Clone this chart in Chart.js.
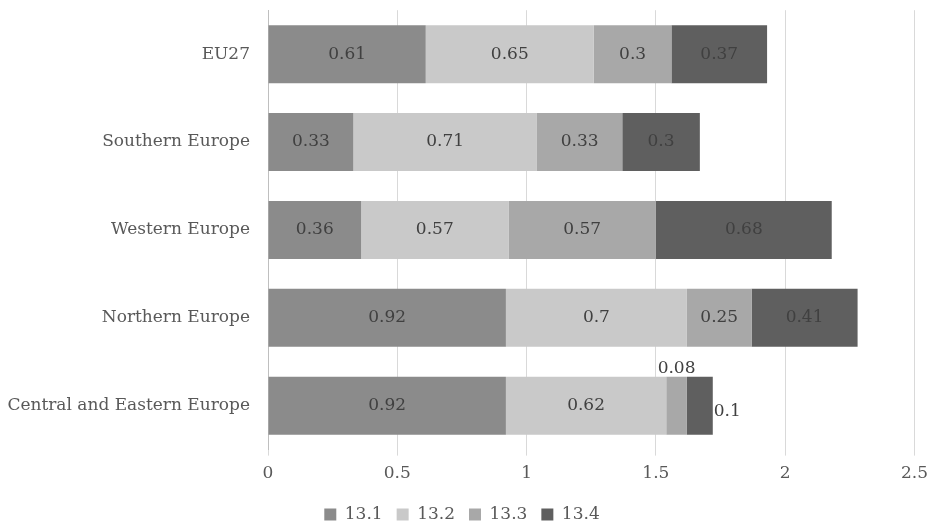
<!DOCTYPE html>
<html>
<head>
<meta charset="utf-8">
<script src="https://cdn.jsdelivr.net/npm/chart.js@4"></script>
<style>
  html, body { margin: 0; padding: 0; background: #fff; }
  #wrap { width: 936px; height: 525px; }
</style>
</head>
<body>
<div id="wrap"><canvas id="myChart" width="936" height="525"></canvas></div>
<script>
const regions = ["EU27", "Southern Europe", "Western Europe", "Northern Europe", "Central and Eastern Europe"];
const s131 = [0.61, 0.33, 0.36, 0.92, 0.92];
const s132 = [0.65, 0.71, 0.57, 0.7, 0.62];
const s133 = [0.3, 0.33, 0.57, 0.25, 0.08];
const s134 = [0.37, 0.3, 0.68, 0.41, 0.1];
const seriesNames = ["13.1", "13.2", "13.3", "13.4"];
const xTicks = [0, 0.5, 1, 1.5, 2, 2.5];

const colors = ["#8b8b8b", "#c9c9c9", "#a8a8a8", "#5f5f5f"];
const fontFamily = "'DejaVu Serif', serif";

// draws the value on each bar segment, small segments get the label outside
const barLabels = {
  id: "barLabels",
  afterDatasetsDraw(chart) {
    const ctx = chart.ctx;
    ctx.save();
    ctx.font = "17px " + fontFamily;
    ctx.fillStyle = "#404040";
    chart.data.datasets.forEach((ds, i) => {
      const meta = chart.getDatasetMeta(i);
      meta.data.forEach((bar, j) => {
        const v = ds.data[j];
        const w = Math.abs(bar.x - bar.base);
        let x = (bar.x + bar.base) / 2;
        let y = bar.y;
        ctx.textAlign = "center";
        ctx.textBaseline = "middle";
        if (w < 30) {
          if (i % 2 === 0) {
            y = bar.y - bar.height / 2 - 8;
          } else {
            x = bar.x + 1;
            y = bar.y + 6;
            ctx.textAlign = "left";
          }
        }
        ctx.fillText(String(v), x, y);
      });
    });
    ctx.restore();
  }
};

const data = {
  labels: regions,
  datasets: [s131, s132, s133, s134].map((vals, i) => ({
    label: seriesNames[i],
    data: vals,
    backgroundColor: colors[i],
    borderWidth: 0,
    barPercentage: 0.66,
    categoryPercentage: 1
  }))
};

const config = {
  type: "bar",
  data,
  options: {
    responsive: false,
    animation: false,
    indexAxis: "y",
    layout: { padding: { top: 0, right: 12, left: 0, bottom: -8 } },
    scales: {
      x: {
        stacked: true,
        min: 0,
        max: 2.5,
        afterBuildTicks: (axis) => { axis.ticks = xTicks.map((v) => ({ value: v })); },
        grid: { color: "#d9d9d9", tickLength: 6, drawTicks: true },
        border: { display: false },
        ticks: {
          color: "#595959",
          font: { family: fontFamily, size: 17 },
          padding: 8,
          callback: (v) => String(v)
        }
      },
      y: {
        stacked: true,
        afterFit: (axis) => { axis.width = 268; },
        // tick marks hidden, their length only spaces the labels from the axis
        grid: { display: false, drawTicks: true, tickLength: 18 },
        border: { display: true, color: "#bfbfbf", width: 1 },
        ticks: { color: "#595959", font: { family: fontFamily, size: 17 }, padding: 0 }
      }
    },
    plugins: {
      legend: {
        position: "bottom",
        labels: {
          boxWidth: 12,
          boxHeight: 12,
          padding: 14,
          color: "#595959",
          font: { family: fontFamily, size: 17 }
        }
      },
      tooltip: { enabled: false }
    }
  },
  plugins: [barLabels]
};

var myChart = new Chart(document.getElementById("myChart"), config);
</script>
</body>
</html>
